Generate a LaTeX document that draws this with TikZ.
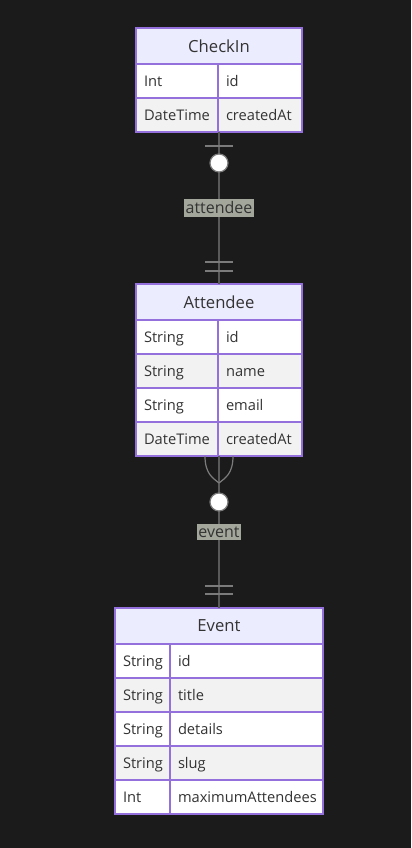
\documentclass[tikz,border=0pt]{standalone}
\usepackage{fontspec}
\setmainfont{Open Sans}
\usetikzlibrary{positioning}
\definecolor{bg}{HTML}{1B1B1B}
\definecolor{entline}{HTML}{9370DB}
\definecolor{hdrfill}{HTML}{ECECFF}
\definecolor{rowalt}{HTML}{F2F2F2}
\definecolor{txt}{HTML}{333333}
\definecolor{relline}{HTML}{5A5A5A}
\definecolor{lblfill}{HTML}{A3A79B}

\begin{document}
\begin{tikzpicture}[x=0.75pt,y=-0.75pt,
    hdr/.style={draw=entline,fill=hdrfill,line width=1pt,minimum height=27pt,
      outer sep=0pt,text=txt,font=\fontsize{12.5}{14}\selectfont,inner sep=0pt},
    cell/.style={draw=entline,line width=1pt,minimum height=25.5pt,outer sep=0pt,
      text=txt,font=\fontsize{11}{13}\selectfont,inner xsep=6pt,inner ysep=0pt,
      text height=9.2pt,text depth=1.4pt,align=left,anchor=north west},
    odd/.style={cell,fill=white},
    even/.style={cell,fill=rowalt},
    rel/.style={draw=relline,line width=0.9pt},
    card/.style={draw=relline!80!white,line width=0.9pt},
    lbl/.style={fill=lblfill,text=txt,font=\fontsize{12}{14}\selectfont,
      inner xsep=1pt,inner ysep=2pt}]
  \fill[bg] (0,0) rectangle (411,848);

  % CheckIn
  \node[hdr, minimum width=124.5pt] (ci) at (219,46) {CheckIn};
  \node[odd, text width=49.5pt] (ci1t) at (ci.south west) {Int};
  \node[odd, text width=51pt] (ci1n) at (ci1t.north east) {id};
  \node[even, text width=49.5pt] (ci2t) at (ci1t.south west) {DateTime};
  \node[even, text width=51pt] (ci2n) at (ci2t.north east) {createdAt};

  % Attendee
  \node[hdr, minimum width=124.5pt] (at) at (219,302) {Attendee};
  \node[odd, text width=49.5pt] (at1t) at (at.south west) {String};
  \node[odd, text width=51pt] (at1n) at (at1t.north east) {id};
  \node[even, text width=49.5pt] (at2t) at (at1t.south west) {String};
  \node[even, text width=51pt] (at2n) at (at2t.north east) {name};
  \node[odd, text width=49.5pt] (at3t) at (at2t.south west) {String};
  \node[odd, text width=51pt] (at3n) at (at3t.north east) {email};
  \node[even, text width=49.5pt] (at4t) at (at3t.south west) {DateTime};
  \node[even, text width=51pt] (at4n) at (at4t.north east) {createdAt};

  % Event
  \node[hdr, minimum width=156pt] (ev) at (219,626) {Event};
  \node[odd, text width=29.25pt] (ev1t) at (ev.south west) {String};
  \node[odd, text width=102.75pt] (ev1n) at (ev1t.north east) {id};
  \node[even, text width=29.25pt] (ev2t) at (ev1t.south west) {String};
  \node[even, text width=102.75pt] (ev2n) at (ev2t.north east) {title};
  \node[odd, text width=29.25pt] (ev3t) at (ev2t.south west) {String};
  \node[odd, text width=102.75pt] (ev3n) at (ev3t.north east) {details};
  \node[even, text width=29.25pt] (ev4t) at (ev3t.south west) {String};
  \node[even, text width=102.75pt] (ev4n) at (ev4t.north east) {slug};
  \node[odd, text width=29.25pt] (ev5t) at (ev4t.south west) {Int};
  \node[odd, text width=102.75pt] (ev5n) at (ev5t.north east) {maximumAttendees};

  % CheckIn -- Attendee
  \coordinate (ciout) at (ci2t.south -| ci.south);
  \draw[rel] (ciout) -- (at.north);
  \draw[card] (ciout) ++(-14,14) -- ++(28,0);
  \draw[card] (at.north) ++(-14,-22) -- ++(28,0);
  \draw[card] (at.north) ++(-14,-13) -- ++(28,0);
  \draw[card, fill=white] (ciout) ++(0,31) circle[radius=9];
  \path (ciout) -- node[lbl] {attendee} (at.north);

  % Attendee -- Event
  \coordinate (atout) at (at4t.south -| at.south);
  \draw[rel] (atout) -- (ev.north);
  \draw[card] (atout) ++(-14,0) .. controls +(0,18) and +(-6,-5) .. +(14,27);
  \draw[card] (atout) ++(14,0) .. controls +(0,18) and +(6,-5) .. +(-14,27);
  \draw[card] (ev.north) ++(-14,-22) -- ++(28,0);
  \draw[card] (ev.north) ++(-14,-14) -- ++(28,0);
  \draw[card, fill=white] (atout) ++(0,46) circle[radius=9];
  \path (atout) -- node[lbl] {event} (ev.north);
\end{tikzpicture}
\end{document}
